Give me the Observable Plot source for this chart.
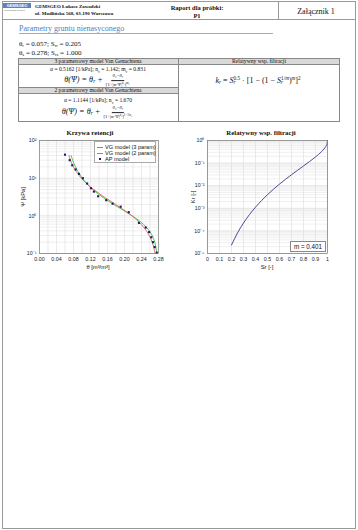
<!DOCTYPE html>
<html><head><meta charset="utf-8">
<script src="https://cdn.jsdelivr.net/npm/d3@7"></script>
<script src="https://cdn.jsdelivr.net/npm/@observablehq/plot@0.6"></script>
<style>
html,body{margin:0;padding:0;background:#fff;}
#page{position:relative;width:358px;height:530px;overflow:hidden;font-family:"Liberation Serif",serif;color:#111;}
.abs{position:absolute;white-space:nowrap;}
.c{transform:translate(-50%,-50%);}
.l{transform:translate(0,-50%);}
.ln{position:absolute;background:#888;}
.frac{display:inline-flex;flex-direction:column;align-items:center;vertical-align:middle;font-size:4.8px;line-height:5px;margin-left:1px;font-style:normal;}
.frac .num{border-bottom:0.6px solid #222;padding:0 1px;}
.sub{font-size:65%;vertical-align:-0.3em;}
.sup{font-size:65%;vertical-align:0.6em;}
.sans{font-family:"Liberation Sans",Arial,sans-serif;}
</style></head>
<body><div id="page">
<!-- page border -->
<div class="ln" style="left:2px;top:1px;width:354px;height:1px;background:#999"></div>
<div class="ln" style="left:2px;top:528px;width:354px;height:1px;background:#999"></div>
<div class="ln" style="left:2px;top:1px;width:1px;height:528px;background:#999"></div>
<div class="ln" style="left:355px;top:1px;width:1px;height:528px;background:#999"></div>
<div class="ln" style="left:2px;top:19px;width:354px;height:1px;background:#999"></div>
<div class="ln" style="left:278px;top:1px;width:1px;height:19px;background:#999"></div>
<!-- header -->
<div class="abs sans" style="left:3px;top:3px;width:28px;height:5px;background:#5d82c2;color:#fff;font-size:4px;line-height:5px;font-weight:bold;text-align:center;">GEMSGEO</div>
<div class="abs sans" style="left:4px;top:8.5px;font-size:2.2px;color:#555;">geotechnical services</div>
<div class="abs l" style="left:35px;top:6px;font-size:5px;font-weight:bold;">GEMSGEO Łukasz Zawadzki</div>
<div class="abs l" style="left:35px;top:13px;font-size:5px;font-weight:bold;">ul. Modlińska 568, 03-190 Warszawa</div>
<div class="abs c" style="left:197px;top:7px;font-size:6.5px;font-weight:bold;">Raport dla próbki:</div>
<div class="abs c" style="left:197px;top:14.5px;font-size:6.5px;font-weight:bold;">P1</div>
<div class="abs c" style="left:316px;top:11px;font-size:8px;">Załącznik 1</div>
<!-- section title -->
<div class="abs l" style="left:19px;top:28px;font-size:8px;color:#4f81bd;">Parametry gruntu nienasyconego</div>
<div class="ln" style="left:19px;top:33px;width:254px;height:1px;background:#8fb0d8"></div>
<div class="abs l" style="left:19px;top:44px;font-size:7px;">θ<span class="sub">r</span> = 0.057; S<span class="sub">rr</span> = 0.205</div>
<div class="abs l" style="left:19px;top:52.5px;font-size:7px;">θ<span class="sub">s</span> = 0.278; S<span class="sub">rs</span> = 1.000</div>
<!-- table -->
<div class="ln" style="left:18px;top:58px;width:322px;height:6px;background:#d9d9d9"></div>
<div class="ln" style="left:18px;top:87px;width:160px;height:6px;background:#d9d9d9"></div>
<div class="ln" style="left:18px;top:58px;width:322px;height:1px;"></div>
<div class="ln" style="left:18px;top:121px;width:322px;height:1px;"></div>
<div class="ln" style="left:18px;top:58px;width:1px;height:64px;"></div>
<div class="ln" style="left:339px;top:58px;width:1px;height:64px;"></div>
<div class="ln" style="left:178px;top:58px;width:1px;height:64px;"></div>
<div class="ln" style="left:18px;top:64px;width:322px;height:1px;"></div>
<div class="ln" style="left:18px;top:87px;width:160px;height:1px;"></div>
<div class="ln" style="left:18px;top:93px;width:160px;height:1px;"></div>
<div class="abs c" style="left:98px;top:61.3px;font-size:5.6px;">3 parametrowy model Van Genuchtena</div>
<div class="abs c" style="left:259px;top:61.3px;font-size:5.6px;">Relatywny wsp. filtracji</div>
<div class="abs c" style="left:98px;top:70px;font-size:5.6px;">α = 0.5162 [1/kPa]; n<span class="sub">v</span> = 1.142; m<span class="sub">v</span> = 0.831</div>
<div class="abs c" style="left:97px;top:80px;font-size:8.2px;font-style:italic;">θ(Ψ) = θ<span class="sub">r</span> + <span class="frac"><span class="num"><i>θ<span class="sub">s</span>−θ<span class="sub">r</span></i></span><span>[1+|α·Ψ|<span class="sup">n<span class="sub">v</span></span>]<span class="sup">m<span class="sub">v</span></span></span></span></div>
<div class="abs c" style="left:98px;top:90.3px;font-size:5.6px;">2 parametrowy model Van Genuchtena</div>
<div class="abs c" style="left:98px;top:100.5px;font-size:5.6px;">α = 1.1144 [1/kPa]; n<span class="sub">v</span> = 1.670</div>
<div class="abs c" style="left:97px;top:112px;font-size:8.2px;font-style:italic;">θ(Ψ) = θ<span class="sub">r</span> + <span class="frac"><span class="num"><i>θ<span class="sub">s</span>−θ<span class="sub">r</span></i></span><span>[1+|α·Ψ|<span class="sup">n<span class="sub">v</span></span>]<span class="sup">1−1/n<span class="sub">v</span></span></span></span></div>
<div class="abs c" style="left:258px;top:80px;font-size:8px;"><i>k<span class="sub">r</span></i> = <i>S</i><span class="sub"><i>r</i></span><span class="sup" style="margin-left:-2px">0.5</span> · [1 − (1 − <i>S</i><span class="sub"><i>r</i></span><span class="sup" style="margin-left:-2px">1/<i>m</i></span>)<span class="sup"><i>m</i></span>]<span class="sup">2</span></div>
<!-- chart titles & labels -->
<div class="abs c" style="left:90px;top:132px;font-size:6.8px;font-weight:bold;">Krzywa retencji</div>
<div class="abs c" style="left:261px;top:132px;font-size:6.8px;font-weight:bold;">Relatywny wsp. filtracji</div>
<div class="abs c sans" style="left:23px;top:197px;font-size:5.8px;transform:translate(-50%,-50%) rotate(-90deg);">Ψ [kPa]</div>
<div class="abs c sans" style="left:193px;top:197px;font-size:5.8px;transform:translate(-50%,-50%) rotate(-90deg);">Kr [-]</div>
<div class="abs c sans" style="left:98px;top:266.5px;font-size:5.8px;">θ [m³/m³]</div>
<div class="abs c sans" style="left:267px;top:266.5px;font-size:5.8px;">Sr [-]</div>
<div id="left" class="abs" style="left:0px;top:125px;"></div>
<div id="right" class="abs" style="left:180px;top:125px;"></div>
<!-- legend -->
<div class="abs sans" style="left:94px;top:141px;width:62px;height:22px;background:#fff;border:0.6px solid #aaa;box-sizing:border-box;font-size:5.6px;">
  <div class="abs" style="left:2px;top:4.5px;width:6px;height:1px;background:#e0606b"></div>
  <div class="abs l" style="left:10px;top:5px;">VG model (3 param)</div>
  <div class="abs" style="left:2px;top:10.5px;width:6px;height:1px;background:#3cc43c"></div>
  <div class="abs l" style="left:10px;top:11px;">VG model (2 param)</div>
  <div class="abs" style="left:4px;top:16px;width:2px;height:2px;background:#1c1c6b"></div>
  <div class="abs l" style="left:10px;top:17px;">AP model</div>
</div>
<div class="abs sans" style="left:290px;top:241px;width:36px;height:11px;background:#fff;border:0.6px solid #888;box-sizing:border-box;font-size:6.3px;line-height:10px;text-align:center;">m = 0.401</div>
</div>
<script>
// ---- data ----
const psi     = [0.1, 0.15, 0.2, 0.3, 0.5, 0.7, 1, 1.5, 2, 3, 5, 7, 10, 15, 20, 30, 40];
const theta3p = [0.2720, 0.2686, 0.2651, 0.2583, 0.2452, 0.2333, 0.2175, 0.1960, 0.1794, 0.1554, 0.1275, 0.1120, 0.0983, 0.0863, 0.0798, 0.0728, 0.0692];
const theta2p = [0.2758, 0.2737, 0.2712, 0.2652, 0.2514, 0.2373, 0.2181, 0.1929, 0.1747, 0.1506, 0.1254, 0.1121, 0.1006, 0.0904, 0.0846, 0.0780, 0.0743];
const apTheta = [0.060, 0.071, 0.077, 0.085, 0.093, 0.102, 0.112, 0.121, 0.128, 0.138, 0.157, 0.172, 0.191, 0.210, 0.234, 0.250, 0.258, 0.263, 0.267, 0.271, 0.276];
const apPsi   = [42, 30, 22, 17, 13, 10, 7.2, 5.4, 4.4, 3.3, 2.6, 2.1, 1.75, 1.25, 0.65, 0.49, 0.37, 0.27, 0.2, 0.148, 0.105];
const sr = [0.2, 0.25, 0.3, 0.35, 0.4, 0.45, 0.5, 0.55, 0.6, 0.65, 0.7, 0.75, 0.8, 0.85, 0.9, 0.95, 0.98, 0.99, 0.995, 1];
const kr = [2.37e-5, 8.14e-5, 2.24e-4, 5.29e-4, 1.122e-3, 2.19e-3, 4.02e-3, 7.01e-3, 0.01178, 0.01919, 0.03058, 0.0480, 0.0748, 0.1171, 0.1873, 0.3196, 0.4869, 0.5947, 0.6837, 1];
const thetaTicks = [0, 0.04, 0.08, 0.12, 0.16, 0.20, 0.24, 0.28];
const thetaGrid  = [0.02, 0.04, 0.06, 0.08, 0.10, 0.12, 0.14, 0.16, 0.18, 0.20, 0.22, 0.24, 0.26];
const psiTicks = [0.1, 1, 10, 100];
const srTicks = [0, 0.1, 0.2, 0.3, 0.4, 0.5, 0.6, 0.7, 0.8, 0.9, 1];
const krTicks = [1e-5, 1e-4, 1e-3, 1e-2, 1e-1, 1];

const supMap = {"-":"⁻","0":"⁰","1":"¹","2":"²","3":"³","4":"⁴","5":"⁵"};
const pow10 = d => "10" + String(Math.round(Math.log10(d))).split("").map(c => supMap[c]).join("");
const minorLog = (lo, hi) => { const a = []; for (let e = lo; e < hi; e++) for (let k = 2; k <= 9; k++) a.push(k * Math.pow(10, e)); return a; };

const retTable = psi.map((p, i) => ({psi: p, t3: theta3p[i], t2: theta2p[i]}));
const apTable = apTheta.map((t, i) => ({t, psi: apPsi[i]}));
const krTable = sr.map((s, i) => ({s, k: kr[i]}));

const common = {fontFamily: "Liberation Sans, Arial, sans-serif", fontSize: "5.3px", background: "transparent", color: "#222"};

const left = Plot.plot({
  width: 180, height: 150, marginLeft: 39, marginRight: 22, marginTop: 15, marginBottom: 22,
  style: common,
  x: {domain: [0, 0.28], ticks: thetaTicks, tickFormat: d => d.toFixed(2), label: null, tickSize: 0, tickPadding: 4},
  y: {type: "log", domain: [0.1, 100], ticks: psiTicks, tickFormat: pow10, label: null, tickSize: 0, tickPadding: 3},
  marks: [
    Plot.ruleY(minorLog(-1, 2), {stroke: "#e4e4e4", strokeWidth: 0.6}),
    Plot.ruleY(psiTicks, {stroke: "#d4d4d4", strokeWidth: 0.6}),
    Plot.ruleX(thetaGrid, {stroke: "#dcdcdc", strokeWidth: 0.6}),
    Plot.line(retTable, {x: "t2", y: "psi", stroke: "#3cc43c", strokeWidth: 0.9, curve: "monotone-y"}),
    Plot.line(retTable, {x: "t3", y: "psi", stroke: "#e0606b", strokeWidth: 0.9, curve: "monotone-y"}),
    Plot.dot(apTable, {x: "t", y: "psi", symbol: "square", r: 1.2, fill: "#1c1c6b", stroke: "none"}),
    Plot.frame({stroke: "#777", strokeWidth: 0.7})
  ]
});
document.getElementById("left").appendChild(left);

const right = Plot.plot({
  width: 178, height: 150, marginLeft: 27, marginRight: 31, marginTop: 15, marginBottom: 22,
  style: common,
  x: {domain: [0, 1], ticks: srTicks, tickFormat: d => (d === 0 || d === 1) ? String(d) : d.toFixed(1), label: null, tickSize: 0, tickPadding: 4},
  y: {type: "log", domain: [1e-5, 1], ticks: krTicks, tickFormat: pow10, label: null, tickSize: 0, tickPadding: 3},
  marks: [
    Plot.ruleY(minorLog(-5, 0), {stroke: "#e4e4e4", strokeWidth: 0.6}),
    Plot.ruleY(krTicks, {stroke: "#d4d4d4", strokeWidth: 0.6}),
    Plot.ruleX(srTicks, {stroke: "#dcdcdc", strokeWidth: 0.6}),
    Plot.line(krTable, {x: "s", y: "k", stroke: "#38388a", strokeWidth: 0.9, curve: "monotone-x"}),
    Plot.frame({stroke: "#777", strokeWidth: 0.7})
  ]
});
document.getElementById("right").appendChild(right);
</script>
</body></html>
